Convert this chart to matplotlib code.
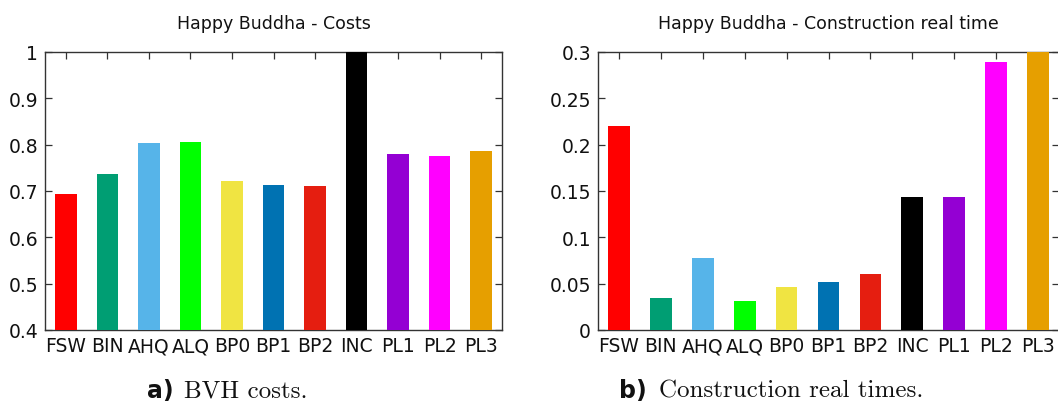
import matplotlib
matplotlib.use("Agg")
import matplotlib.pyplot as plt

categories = ["FSW", "BIN", "AHQ", "ALQ", "BP0", "BP1", "BP2", "INC", "PL1", "PL2", "PL3"]
costs = [0.694, 0.737, 0.804, 0.806, 0.721, 0.713, 0.711, 1.0, 0.779, 0.776, 0.786]
times = [0.220, 0.034, 0.078, 0.031, 0.046, 0.052, 0.060, 0.144, 0.143, 0.289, 0.31]
colors = ["#ff0000", "#009e73", "#56b4e9", "#00ff00", "#f0e442", "#0072b2",
          "#e51e10", "#000000", "#9400d3", "#ff00ff", "#e69f00"]
cost_ticks = [0.4, 0.5, 0.6, 0.7, 0.8, 0.9, 1.0]
cost_labels = ["0.4", "0.5", "0.6", "0.7", "0.8", "0.9", "1"]
time_ticks = [0, 0.05, 0.1, 0.15, 0.2, 0.25, 0.3]
time_labels = ["0", "0.05", "0.1", "0.15", "0.2", "0.25", "0.3"]

W, H = 1058, 406
fig = plt.figure(figsize=(W / 100, H / 100), dpi=100)

def px_axes(x0, x1, y0, y1):
    return fig.add_axes([x0 / W, 1 - y1 / H, (x1 - x0) / W, (y1 - y0) / H])

ax1 = px_axes(45, 502, 53, 331)
ax2 = px_axes(598, 1059, 53, 331)

def style(ax, vals, ticks, labels, ylim, title):
    x = range(len(categories))
    ax.bar(x, vals, width=0.52, color=colors, zorder=3)
    ax.set_xlim(-0.5, len(categories) - 0.5)
    ax.set_ylim(*ylim)
    ax.set_yticks(ticks)
    ax.set_yticklabels(labels)
    ax.set_xticks(list(x))
    ax.set_xticklabels(categories)
    ax.tick_params(direction="in", length=5, width=0.9, top=True, right=True,
                   labelsize=13.5, color="#333333", labelcolor="#111111")
    ax.tick_params(axis="y", pad=5)
    ax.tick_params(axis="x", pad=4.5)
    for s in ax.spines.values():
        s.set_linewidth(1.0)
        s.set_color("#333333")
    ax.set_title(title, fontsize=12.5, pad=17, color="#111111")

style(ax1, costs, cost_ticks, cost_labels, (0.4, 1.0), "Happy Buddha - Costs")
style(ax2, times, time_ticks, time_labels, (0, 0.3), "Happy Buddha - Construction real time")

cap_y = 1 - 398 / H
fig.text(174 / W, cap_y, "a)", ha="right", va="baseline", fontsize=17,
         fontweight="bold", family="DejaVu Sans", color="#111111")
fig.text(184 / W, cap_y, "BVH costs.", ha="left", va="baseline", fontsize=18,
         family="cmr10", color="#111111")
fig.text(647 / W, cap_y, "b)", ha="right", va="baseline", fontsize=17,
         fontweight="bold", family="DejaVu Sans", color="#111111")
fig.text(659 / W, cap_y, "Construction real times.", ha="left", va="baseline", fontsize=18,
         family="cmr10", color="#111111")

fig.savefig("out.png", dpi=100)
